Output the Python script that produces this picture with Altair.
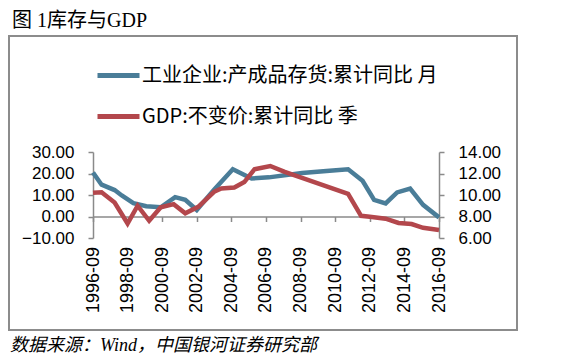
import altair as alt
import pandas as pd

title_text = "图 1库存与GDP"
source_text = "数据来源：Wind，中国银河证券研究部"

blue_name = "工业企业:产成品存货:累计同比 月"
red_name = "GDP:不变价:累计同比 季"

blue_dates = ["1996-09", "1997-03", "1997-12", "1998-05", "1999-01", "1999-10",
              "2000-08", "2001-06", "2002-01", "2002-09", "2003-09", "2004-10",
              "2005-11", "2006-11", "2008-10", "2010-03", "2011-06", "2012-04",
              "2012-12", "2013-08", "2014-04", "2015-01", "2015-10", "2016-09"]
blue_vals = [20.5, 14.8, 12.3, 9.8, 6.2, 4.8,
             4.3, 9.0, 7.8, 3.0, 12.5, 22.0,
             17.7, 18.2, 20.2, 21.2, 22.0, 16.6,
             7.7, 6.1, 11.2, 13.0, 5.4, -0.4]

red_dates = ["1996-09", "1997-03", "1997-12", "1998-09", "1999-04", "1999-12",
             "2000-08", "2001-05", "2002-01", "2002-10", "2003-09", "2004-02",
             "2004-11", "2005-06", "2006-01", "2006-12", "2007-10", "2008-10",
             "2011-06", "2012-03", "2012-09", "2013-08", "2014-05", "2015-02",
             "2015-10", "2016-09"]
red_vals = [10.2, 10.25, 9.3, 7.35, 9.0, 7.6,
            8.85, 9.15, 8.3, 8.9, 10.3, 10.6,
            10.7, 11.2, 12.4, 12.7, 12.15, 11.6,
            10.1, 8.06, 7.97, 7.8, 7.4, 7.3,
            6.95, 6.75]

x_tick_labels = ["1996-09", "1998-09", "2000-09", "2002-09", "2004-09", "2006-09",
                 "2008-09", "2010-09", "2012-09", "2014-09", "2016-09"]
left_ticks = [-10, 0, 10, 20, 30]
right_ticks = [6, 8, 10, 12, 14]

series_colors = ["#4a7d98", "#b3474c"]

blue_df = pd.DataFrame({"date": [d + "-01T00:00:00" for d in blue_dates],
                        "value": blue_vals, "series": blue_name})
red_df = pd.DataFrame({"date": [d + "-01T00:00:00" for d in red_dates],
                       "value": red_vals, "series": red_name})

tick_dt = [alt.DateTime(year=int(s[:4]), month=int(s[5:]), date=1) for s in x_tick_labels]

axis_gray = "#8a8a8a"
lab_font = "Liberation Sans"

color = alt.Color(
    "series:N",
    scale=alt.Scale(domain=[blue_name, red_name], range=series_colors),
    legend=alt.Legend(
        orient="none", legendX=2, legendY=-100, direction="vertical", title=None,
        symbolType="stroke", symbolSize=1764, symbolStrokeWidth=5,
        labelFontSize=20, labelFont="Noto Sans CJK SC", labelColor="black",
        labelOffset=0, padding=0, rowPadding=7, labelLimit=600,
    ),
)

x_axis = alt.Axis(
    title=None, values=tick_dt, format="%Y-%m", labelAngle=-90,
    labelFont=lab_font, labelFontSize=18, labelColor="black",
    labelFlush=False, labelOverlap=False, labelBound=False,
    offset=-21.5, tickSize=5, labelPadding=25,
    domainColor=axis_gray, tickColor=axis_gray, domainWidth=1.5, tickWidth=1.5,
    grid=False,
)
x_scale = alt.Scale(domain=[alt.DateTime(year=1996, month=9, date=1),
                            alt.DateTime(year=2016, month=9, date=1)])

blue_line = alt.Chart(blue_df).mark_line(strokeWidth=4.5).encode(
    x=alt.X("date:T", scale=x_scale, axis=x_axis),
    y=alt.Y(
        "value:Q",
        scale=alt.Scale(domain=[-10, 30], nice=False, zero=False),
        axis=alt.Axis(
            title=None, orient="left", values=left_ticks, format=".2f",
            labelFont=lab_font, labelFontSize=17, labelColor="black",
            tickSize=5, labelPadding=14, domainColor=axis_gray, tickColor=axis_gray,
            domainWidth=1.5, tickWidth=1.5, grid=False, labelFlush=False,
        ),
    ),
    color=color,
)

red_line = alt.Chart(red_df).mark_line(strokeWidth=4.5).encode(
    x=alt.X("date:T", scale=x_scale, axis=x_axis),
    y=alt.Y(
        "value:Q",
        scale=alt.Scale(domain=[6, 14], nice=False, zero=False),
        axis=alt.Axis(
            title=None, orient="right", values=right_ticks, format=".2f",
            labelFont=lab_font, labelFontSize=17, labelColor="black",
            tickSize=5, labelPadding=14, domainColor=axis_gray, tickColor=axis_gray,
            domainWidth=1.5, tickWidth=1.5, grid=False, labelFlush=False,
        ),
    ),
    color=color,
)

frame = alt.Chart(pd.DataFrame({"k": [0]})).mark_rect(
    fillOpacity=0, stroke="#8c8c8c", strokeWidth=2
).encode(
    x=alt.value(-84), x2=alt.value(424), y=alt.value(-116), y2=alt.value(178)
)

title = alt.Chart(pd.DataFrame({"t": [title_text]})).mark_text(
    align="left", baseline="middle", fontSize=20,
    font="Liberation Serif, Noto Sans CJK SC", color="black"
).encode(text="t:N", x=alt.value(-81), y=alt.value(-131))

source = alt.Chart(pd.DataFrame({"t": [source_text]})).mark_text(
    align="left", baseline="middle", fontSize=18, fontStyle="italic",
    font="Liberation Serif, Noto Sans CJK SC", color="black"
).encode(text="t:N", x=alt.value(-83), y=alt.value(194))

chart = alt.layer(blue_line, red_line, frame, title, source).resolve_scale(
    y="independent"
).properties(
    width=346, height=86,
    padding={"left": 85, "top": 144, "right": 81, "bottom": 116},
    autosize=alt.AutoSizeParams(type="none"),
).configure_view(stroke=None).configure_axisX(labelOverlap=False)

chart.save("out.html", embed_options={"renderer": "svg", "actions": False})
